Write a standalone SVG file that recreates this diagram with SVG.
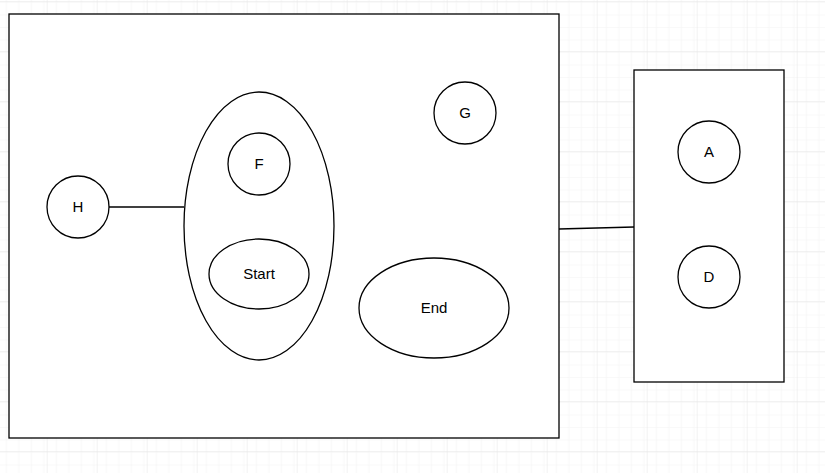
<svg xmlns="http://www.w3.org/2000/svg" width="825" height="473" viewBox="0 0 825 473">
<defs>
<pattern id="minor" x="-3.3" y="1" width="12.5" height="12.5" patternUnits="userSpaceOnUse">
<path d="M0 0H12.5M0 0V12.5" fill="none" stroke="#f2f2f2" stroke-width="1"/>
</pattern>
<pattern id="major" x="-3.3" y="1" width="50" height="50" patternUnits="userSpaceOnUse">
<rect width="50" height="50" fill="url(#minor)"/>
<path d="M0 0H50M0 0V50" fill="none" stroke="#e5e5e5" stroke-width="1"/>
</pattern>
</defs>
<style>
.s{fill:#fff;stroke:#000;stroke-width:1.3}
.c{fill:none;stroke:#000;stroke-width:1.3}
text{font-family:"Liberation Sans",Arial,sans-serif;font-size:15px;fill:#000;text-anchor:middle;dominant-baseline:central}
</style>
<rect width="825" height="473" fill="#fff"/>
<rect width="825" height="473" fill="url(#major)"/>
<g id="container1"><rect class="s" x="9" y="14" width="550" height="424"/></g>
<g id="container2"><rect class="s" x="634" y="70" width="150" height="312"/></g>
<g id="connectors">
<path class="c" d="M559 229L634 227"/>
<path class="c" d="M109 207H184"/>
</g>
<g id="H"><circle class="s" cx="78" cy="207" r="31"/><text x="78" y="206.5">H</text></g>
<g id="group"><ellipse class="s" cx="259" cy="226" rx="75" ry="134"/></g>
<g id="F"><circle class="s" cx="259" cy="164" r="31"/><text x="259" y="163.5">F</text></g>
<g id="Start"><ellipse class="s" cx="259" cy="274" rx="50" ry="35"/><text x="259" y="273.5">Start</text></g>
<g id="G"><circle class="s" cx="465" cy="113" r="31"/><text x="465" y="112.5">G</text></g>
<g id="End"><ellipse class="s" cx="434" cy="308" rx="75" ry="50"/><text x="434" y="307.5">End</text></g>
<g id="A"><circle class="s" cx="709" cy="152" r="31"/><text x="709" y="151.5">A</text></g>
<g id="D"><circle class="s" cx="709" cy="277" r="31"/><text x="709" y="276.5">D</text></g>
</svg>
